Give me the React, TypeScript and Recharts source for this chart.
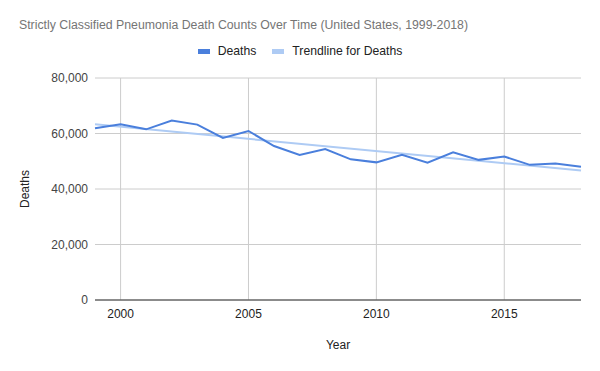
import React from 'react';
import { LineChart, Line, XAxis, YAxis, CartesianGrid } from 'recharts';

const years = [1999, 2000, 2001, 2002, 2003, 2004, 2005, 2006, 2007, 2008, 2009, 2010, 2011, 2012, 2013, 2014, 2015, 2016, 2017, 2018];
const deaths = [61900, 63300, 61500, 64700, 63200, 58400, 60900, 55500, 52300, 54400, 50700, 49600, 52300, 49500, 53200, 50500, 51700, 48700, 49200, 48000];
// trendline read at its two ends
const trendStart = 63300;
const trendEnd = 46700;

const yTicks = [0, 20000, 40000, 60000, 80000];
const xTicks = [2000, 2005, 2010, 2015];

const FONT = 'Arial, "Liberation Sans", sans-serif';
const DEATHS_COLOR = '#4a7fdc';
const TREND_COLOR = '#aecbf4';

const data = years.map((year, i) => ({
  year,
  deaths: deaths[i],
  trend: i === 0 ? trendStart : i === years.length - 1 ? trendEnd : null,
}));

function formatThousands(v: number) {
  return v.toLocaleString('en-US');
}

function TopLegend() {
  const items = [
    { label: 'Deaths', color: DEATHS_COLOR },
    { label: 'Trendline for Deaths', color: TREND_COLOR },
  ];
  return (
    <div style={{ position: 'absolute', left: 0, top: 44, width: 600, display: 'flex', justifyContent: 'center', fontFamily: FONT, fontSize: 12.2, color: '#222' }}>
      {items.map((it, i) => (
        <div key={it.label} style={{ display: 'flex', alignItems: 'center', marginLeft: i ? 16 : 0 }}>
          <span style={{ width: 12, height: 5, background: it.color, marginRight: 8, display: 'inline-block' }} />
          <span>{it.label}</span>
        </div>
      ))}
    </div>
  );
}

export default function App() {
  return (
    <div style={{ position: 'absolute', left: 0, top: 0, width: 600, height: 371, background: '#fff' }}>
      <div style={{ position: 'absolute', left: 19, top: 18, fontFamily: FONT, fontSize: 12.3, color: '#757575', whiteSpace: 'nowrap' }}>
        Strictly Classified Pneumonia Death Counts Over Time (United States, 1999-2018)
      </div>
      <TopLegend />
      <LineChart width={600} height={371} data={data} margin={{ top: 78, right: 19, left: 22, bottom: 0 }}>
        <CartesianGrid stroke="#cccccc" syncWithTicks />
        <XAxis
          dataKey="year"
          type="number"
          domain={[1999, 2018]}
          ticks={xTicks}
          height={71}
          tickLine={false}
          tickSize={0}
          tickMargin={9}
          axisLine={{ stroke: '#333', strokeWidth: 1 }}
          tick={{ fill: '#222', fontSize: 12, fontFamily: FONT }}
          label={{ value: 'Year', position: 'insideBottom', offset: 22, fill: '#222', fontSize: 12, fontFamily: FONT }}
        />
        <YAxis
          domain={[0, 80000]}
          ticks={yTicks}
          width={73}
          tickLine={false}
          axisLine={false}
          tickSize={0}
          tickMargin={7}
          tickFormatter={formatThousands}
          tick={{ fill: '#444', fontSize: 12, fontFamily: FONT }}
          label={{ value: 'Deaths', angle: -90, position: 'insideLeft', offset: 3, fill: '#222', fontSize: 12, fontFamily: FONT, style: { textAnchor: 'middle' } }}
        />
        <Line
          type="linear"
          dataKey="trend"
          stroke={TREND_COLOR}
          strokeWidth={2}
          dot={false}
          connectNulls
          isAnimationActive={false}
        />
        <Line
          type="linear"
          dataKey="deaths"
          stroke={DEATHS_COLOR}
          strokeWidth={2}
          dot={false}
          isAnimationActive={false}
        />
      </LineChart>
    </div>
  );
}
